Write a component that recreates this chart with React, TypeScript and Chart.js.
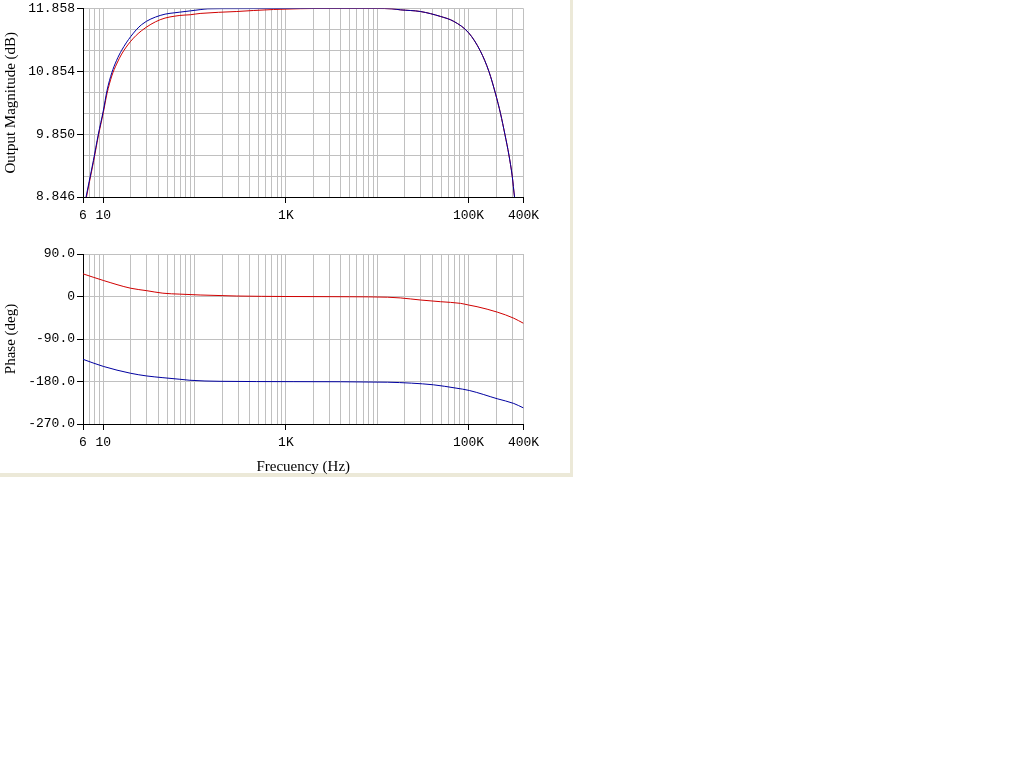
import React, { useEffect, useRef } from 'react';
import { Chart, registerables } from 'chart.js';

Chart.register(...registerables);

// ---- Data ----
const magFreqBlue = [6, 6.48, 7, 7.8, 8.83, 10, 11, 12.4, 14, 15.9, 20, 26.3, 42, 69, 89.5, 115, 140, 200, 1000, 10000, 14500, 17900, 29700, 49300, 69000, 100800, 135000, 167000, 198000, 224000, 250000, 277000, 301000, 319000, 340000];
const magBlue = [8.61, 8.846, 9.09, 9.43, 9.85, 10.22, 10.55, 10.83, 11.03, 11.19, 11.41, 11.6, 11.747, 11.8, 11.82, 11.84, 11.853, 11.856, 11.858, 11.858, 11.853, 11.837, 11.81, 11.731, 11.652, 11.466, 11.176, 10.854, 10.49, 10.18, 9.85, 9.516, 9.18, 8.846, 8.58];

const magFreqRed = [6, 6.55, 7, 7.8, 8.83, 10, 11, 12.4, 14, 15.9, 20, 26.3, 42, 69, 89.5, 115, 290, 440, 730, 1440, 2000, 10000, 14500, 17900, 29700, 49300, 69000, 100800, 135000, 167000, 198000, 224000, 250000, 277000, 301000, 319000, 340000];
const magRed = [8.58, 8.846, 9.06, 9.4, 9.82, 10.19, 10.5, 10.78, 10.97, 11.13, 11.335, 11.504, 11.679, 11.747, 11.758, 11.779, 11.81, 11.826, 11.842, 11.855, 11.858, 11.858, 11.853, 11.837, 11.81, 11.731, 11.652, 11.466, 11.176, 10.854, 10.49, 10.18, 9.85, 9.516, 9.18, 8.846, 8.58];

const phaseFreqRed = [6, 10, 20, 30, 45, 69, 115, 290, 1000, 5000, 13000, 17900, 29700, 49300, 81600, 100000, 124000, 206000, 313000, 400000];
const phaseRed = [48, 34, 17.5, 12.3, 7, 5, 3.2, 1, 0, -0.5, -1.5, -3, -7.4, -11, -14.5, -18, -21.6, -33, -46, -56.8];

const phaseFreqBlue = [6, 10, 20, 30, 45, 69, 89, 190, 1200, 13000, 23700, 41300, 73000, 102000, 206000, 313000, 400000];
const phaseBlue = [-133, -148, -162.6, -168.3, -171.9, -175.3, -177.4, -179.6, -180.3, -181.5, -183.5, -187, -194, -199, -216.5, -226.5, -236];

// ---- Axes ----
const xMin = 6;
const xMax = 400000;
const xGrid = [6, 7, 8, 9, 10, 20, 30, 40, 50, 60, 70, 80, 90, 100, 200, 300, 400, 500, 600, 700, 800, 900, 1000, 2000, 3000, 4000, 5000, 6000, 7000, 8000, 9000, 10000, 20000, 30000, 40000, 50000, 60000, 70000, 80000, 90000, 100000, 200000, 300000, 400000];
const xLabelValues = [6, 10, 1000, 100000, 400000];
const xLabelTexts = ['6', '10', '1K', '100K', '400K'];

const magMin = 8.846;
const magMax = 11.858;
const magGridCount = 9;
const magTickLabels = ['8.846', '9.850', '10.854', '11.858'];

const phaseMin = -270;
const phaseMax = 90;
const phaseTicks = [-270, -180, -90, 0, 90];
const phaseTickLabels = ['-270.0', '-180.0', '-90.0', '0', '90.0'];

const RED = '#d00000';
const BLUE = '#0000a0';
const GRID = '#c0c0c0';
const MONO = "'Liberation Mono', 'Courier New', monospace";
const SERIF = "'Liberation Serif', 'Times New Roman', serif";

const pts = (xs: number[], ys: number[]) => xs.map((x, i) => ({ x, y: ys[i] }));

function xScale(showTitle: boolean, height: number) {
  return {
    type: 'logarithmic',
    min: xMin,
    max: xMax,
    afterBuildTicks: (s: any) => {
      s.ticks = xGrid.map((v) => ({ value: v }));
    },
    afterFit: (s: any) => {
      s.height = height;
    },
    ticks: {
      autoSkip: false,
      maxRotation: 0,
      minRotation: 0,
      padding: 5,
      color: '#000',
      font: { family: MONO, size: 13 },
      callback: (v: any) => {
        const i = xLabelValues.indexOf(Number(v));
        return i >= 0 ? xLabelTexts[i] : '';
      },
    },
    grid: {
      color: GRID,
      lineWidth: 1,
      tickLength: 6,
      tickColor: (ctx: any) =>
        ctx.tick && xLabelValues.indexOf(ctx.tick.value) >= 0 ? '#000' : 'rgba(0,0,0,0)',
    },
    border: { display: true, color: '#000', width: 1 },
    title: {
      display: showTitle,
      text: 'Frecuency (Hz)',
      color: '#000',
      font: { family: SERIF, size: 15 },
      padding: { top: 0, bottom: 0 },
    },
  };
}

function useChart(ref: React.RefObject<HTMLCanvasElement>, build: () => any) {
  useEffect(() => {
    if (!ref.current) return;
    const chart = new Chart(ref.current, build());
    return () => chart.destroy();
  }, []);
}

function lineDs(xs: number[], ys: number[], color: string) {
  return {
    data: pts(xs, ys),
    borderColor: color,
    borderWidth: 1,
    pointRadius: 0,
    cubicInterpolationMode: 'monotone',
    fill: false,
  };
}

export default function App() {
  const topRef = useRef<HTMLCanvasElement>(null);
  const botRef = useRef<HTMLCanvasElement>(null);

  useChart(topRef, () => ({
    type: 'line',
    data: {
      datasets: [lineDs(magFreqBlue, magBlue, BLUE), lineDs(magFreqRed, magRed, RED)],
    },
    options: {
      animation: false,
      responsive: false,
      devicePixelRatio: 1,
      layout: { padding: { top: 7, right: 46.5, left: 0, bottom: 0 } },
      plugins: { legend: { display: false }, tooltip: { enabled: false } },
      scales: {
        x: xScale(false, 33),
        y: {
          type: 'linear',
          min: magMin,
          max: magMax,
          afterBuildTicks: (s: any) => {
            const arr = [];
            for (let k = 0; k <= magGridCount; k++) {
              arr.push({ value: magMin + (k * (magMax - magMin)) / magGridCount });
            }
            s.ticks = arr;
          },
          afterFit: (s: any) => {
            s.width = 83;
          },
          ticks: {
            autoSkip: false,
            padding: 2,
            color: '#000',
            font: { family: MONO, size: 13, lineHeight: 1 },
            callback: (_v: any, i: number) => (i % 3 === 0 ? magTickLabels[i / 3] : ''),
          },
          grid: {
            color: GRID,
            lineWidth: 1,
            tickLength: 6,
            tickColor: (ctx: any) => (ctx.index % 3 === 0 ? '#000' : 'rgba(0,0,0,0)'),
          },
          border: { display: true, color: '#000', width: 1 },
          title: {
            display: true,
            text: 'Output Magnitude (dB)',
            color: '#000',
            font: { family: SERIF, size: 15 },
            padding: { top: 2, bottom: 0 },
          },
        },
      },
    },
  }));

  useChart(botRef, () => ({
    type: 'line',
    data: {
      datasets: [lineDs(phaseFreqBlue, phaseBlue, BLUE), lineDs(phaseFreqRed, phaseRed, RED)],
    },
    options: {
      animation: false,
      responsive: false,
      devicePixelRatio: 1,
      layout: { padding: { top: 14, right: 46.5, left: 0, bottom: 0 } },
      plugins: { legend: { display: false }, tooltip: { enabled: false } },
      scales: {
        x: xScale(true, 52),
        y: {
          type: 'linear',
          min: phaseMin,
          max: phaseMax,
          afterBuildTicks: (s: any) => {
            s.ticks = phaseTicks.map((v) => ({ value: v }));
          },
          afterFit: (s: any) => {
            s.width = 83;
          },
          ticks: {
            autoSkip: false,
            padding: 2,
            color: '#000',
            font: { family: MONO, size: 13, lineHeight: 1 },
            callback: (_v: any, i: number) => phaseTickLabels[i],
          },
          grid: {
            color: GRID,
            lineWidth: 1,
            tickLength: 6,
            tickColor: '#000',
          },
          border: { display: true, color: '#000', width: 1 },
          title: {
            display: true,
            text: 'Phase (deg)',
            color: '#000',
            font: { family: SERIF, size: 15 },
            padding: { top: 2, bottom: 0 },
          },
        },
      },
    },
  }));

  return (
    <div
      style={{
        position: 'absolute',
        left: 0,
        top: 0,
        width: 570,
        height: 473,
        background: '#fff',
        borderRight: '3px solid #ece9d8',
        borderBottom: '4px solid #ece9d8',
      }}
    >
      <canvas
        ref={topRef}
        width={570}
        height={230}
        style={{ position: 'absolute', left: 0, top: 0, width: 570, height: 230 }}
      />
      <canvas
        ref={botRef}
        width={570}
        height={236}
        style={{ position: 'absolute', left: 0, top: 240, width: 570, height: 236 }}
      />
    </div>
  );
}
